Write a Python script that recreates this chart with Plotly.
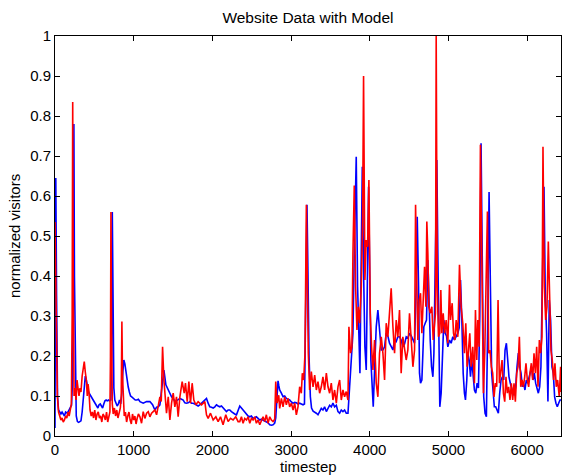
import plotly.graph_objects as go

# ---- data (timestep, normalized visitors) ----
red_t = [0, 15, 30, 45, 60, 75, 90, 105, 120, 135, 150, 165, 180, 195, 208, 218, 225, 232, 242, 255,
         268, 280, 292, 305, 318, 330, 345, 358, 372, 385, 398, 410, 420, 432, 445, 460, 475, 490, 505, 520,
         535, 550, 565, 580, 595, 610, 625, 640, 655, 670, 685, 698, 705, 711, 718, 728, 740, 755, 770, 785,
         800, 815, 830, 842, 850, 858, 868, 880, 895, 910, 925, 940, 955, 970, 985, 1000, 1015, 1030, 1045, 1060,
         1079, 1100, 1121, 1142, 1164, 1185, 1206, 1227, 1248, 1269, 1291, 1312, 1333, 1350, 1367, 1384, 1401, 1417, 1439, 1460,
         1481, 1502, 1523, 1544, 1565, 1587, 1616, 1642, 1658, 1680, 1701, 1722, 1743, 1764, 1790, 1819, 1862, 1904, 1925, 1946,
         1976, 2010, 2044, 2073, 2103, 2136, 2170, 2200, 2230, 2263, 2297, 2327, 2348, 2369, 2390, 2411, 2433, 2454, 2475, 2496,
         2517, 2538, 2559, 2581, 2602, 2623, 2644, 2665, 2686, 2707, 2729, 2750, 2771, 2792, 2805, 2822, 2843, 2855, 2877, 2898,
         2919, 2940, 2961, 2982, 3004, 3025, 3046, 3067, 3088, 3109, 3130, 3143, 3160, 3177, 3194, 3219, 3236, 3257, 3279, 3300,
         3321, 3342, 3363, 3384, 3405, 3426, 3448, 3469, 3490, 3511, 3532, 3553, 3575, 3596, 3617, 3638, 3659, 3680, 3701, 3723,
         3735, 3756, 3773, 3786, 3803, 3820, 3837, 3854, 3871, 3892, 3909, 3921, 3938, 3955, 3972, 3989, 4006, 4023, 4040, 4061,
         4082, 4103, 4124, 4146, 4167, 4188, 4209, 4230, 4251, 4272, 4294, 4315, 4336, 4357, 4378, 4399, 4420, 4442, 4463, 4484,
         4505, 4527, 4548, 4569, 4582, 4599, 4611, 4628, 4645, 4662, 4679, 4696, 4713, 4725, 4738, 4751, 4768, 4789, 4806, 4823,
         4835, 4844, 4857, 4873, 4890, 4903, 4916, 4933, 4950, 4971, 4992, 5013, 5026, 5047, 5064, 5081, 5098, 5119, 5140, 5161,
         5182, 5203, 5220, 5237, 5254, 5271, 5288, 5309, 5330, 5343, 5360, 5373, 5389, 5406, 5423, 5444, 5461, 5478, 5495, 5511,
         5528, 5545, 5562, 5579, 5596, 5613, 5630, 5647, 5664, 5681, 5698, 5715, 5731, 5748, 5765, 5782, 5799, 5816, 5833, 5850,
         5867, 5884, 5901, 5918, 5935, 5952, 5969, 5985, 6002, 6019, 6036, 6053, 6070, 6087, 6104, 6121, 6138, 6155, 6171, 6188,
         6201, 6218, 6235, 6252, 6269, 6286, 6302, 6319, 6336, 6353, 6370, 6387, 6408, 6425, 6430]
red_v = [0.535, 0.30, 0.10, 0.06, 0.05, 0.04, 0.045, 0.035, 0.04, 0.05, 0.045, 0.06, 0.05, 0.065, 0.08, 0.30, 0.835, 0.40, 0.10, 0.12,
         0.09, 0.14, 0.115, 0.10, 0.12, 0.11, 0.15, 0.17, 0.186, 0.16, 0.14, 0.10, 0.13, 0.11, 0.065, 0.05, 0.06, 0.045, 0.065, 0.04,
         0.055, 0.06, 0.045, 0.05, 0.035, 0.055, 0.05, 0.04, 0.06, 0.035, 0.05, 0.06, 0.20, 0.56, 0.30, 0.08, 0.055, 0.07, 0.05, 0.065,
         0.045, 0.06, 0.07, 0.10, 0.286, 0.15, 0.07, 0.05, 0.06, 0.035, 0.05, 0.06, 0.04, 0.03, 0.055, 0.04, 0.05, 0.03, 0.045, 0.055,
         0.048, 0.032, 0.061, 0.044, 0.057, 0.061, 0.048, 0.057, 0.061, 0.065, 0.053, 0.073, 0.098, 0.086, 0.223, 0.14, 0.09, 0.057, 0.098, 0.04,
         0.082, 0.107, 0.073, 0.098, 0.048, 0.098, 0.136, 0.107, 0.132, 0.086, 0.136, 0.082, 0.132, 0.09, 0.078, 0.086, 0.078, 0.086, 0.053, 0.044,
         0.057, 0.04, 0.048, 0.036, 0.048, 0.028, 0.053, 0.036, 0.044, 0.04, 0.048, 0.036, 0.036, 0.048, 0.032, 0.044, 0.04, 0.048, 0.032, 0.044,
         0.04, 0.048, 0.032, 0.04, 0.028, 0.04, 0.048, 0.036, 0.053, 0.032, 0.048, 0.04, 0.036, 0.042, 0.136, 0.082, 0.102, 0.069, 0.094, 0.073,
         0.098, 0.078, 0.094, 0.073, 0.082, 0.065, 0.082, 0.053, 0.073, 0.123, 0.107, 0.157, 0.14, 0.207, 0.578, 0.207, 0.115, 0.161, 0.123, 0.152,
         0.115, 0.136, 0.107, 0.123, 0.148, 0.115, 0.157, 0.123, 0.107, 0.132, 0.09, 0.115, 0.082, 0.123, 0.14, 0.09, 0.115, 0.098, 0.111, 0.09,
         0.273, 0.207, 0.223, 0.457, 0.626, 0.373, 0.265, 0.323, 0.282, 0.373, 0.54, 0.90, 0.39, 0.49, 0.473, 0.64, 0.307, 0.223, 0.165, 0.24,
         0.132, 0.098, 0.207, 0.248, 0.207, 0.14, 0.282, 0.248, 0.307, 0.369, 0.273, 0.207, 0.29, 0.248, 0.315, 0.157, 0.248, 0.223, 0.19, 0.215,
         0.307, 0.24, 0.173, 0.215, 0.578, 0.373, 0.24, 0.34, 0.357, 0.257, 0.323, 0.423, 0.323, 0.536, 0.457, 0.323, 0.307, 0.323, 0.24, 0.273,
         0.307, 1.0, 0.373, 0.248, 0.257, 0.365, 0.257, 0.307, 0.257, 0.29, 0.232, 0.378, 0.29, 0.332, 0.257, 0.24, 0.29, 0.248, 0.428, 0.323,
         0.282, 0.207, 0.282, 0.173, 0.223, 0.257, 0.173, 0.223, 0.132, 0.315, 0.19, 0.29, 0.223, 0.728, 0.457, 0.107, 0.207, 0.365, 0.561, 0.207,
         0.215, 0.173, 0.157, 0.098, 0.132, 0.123, 0.34, 0.132, 0.157, 0.19, 0.107, 0.086, 0.148, 0.107, 0.123, 0.09, 0.132, 0.09, 0.132, 0.086,
         0.157, 0.173, 0.248, 0.123, 0.14, 0.123, 0.148, 0.182, 0.14, 0.123, 0.157, 0.182, 0.14, 0.207, 0.157, 0.223, 0.123, 0.24, 0.207, 0.248,
         0.723, 0.373, 0.29, 0.323, 0.486, 0.29, 0.215, 0.19, 0.14, 0.182, 0.123, 0.14, 0.098, 0.173, 0.11]

blue_t = [0, 10, 20, 32, 45, 60, 75, 90, 105, 120, 135, 150, 165, 180, 195, 210, 225, 233, 240, 247,
          258, 270, 285, 300, 315, 330, 345, 360, 375, 385, 398, 410, 425, 440, 455, 470, 485, 500, 515, 530,
          545, 560, 575, 590, 605, 620, 635, 650, 665, 680, 695, 710, 720, 728, 736, 748, 760, 775, 790, 805,
          820, 835, 850, 862, 875, 888, 900, 915, 930, 945, 960, 975, 990, 1005, 1020, 1040, 1060, 1080, 1121, 1164,
          1206, 1240, 1269, 1291, 1312, 1333, 1354, 1371, 1384, 1409, 1439, 1460, 1481, 1502, 1523, 1544, 1565, 1587, 1608, 1629,
          1650, 1671, 1692, 1714, 1735, 1756, 1777, 1798, 1819, 1840, 1862, 1883, 1904, 1925, 1946, 1967, 1988, 2010, 2031, 2052,
          2073, 2094, 2115, 2136, 2158, 2179, 2200, 2221, 2242, 2263, 2284, 2306, 2335, 2348, 2369, 2390, 2411, 2433, 2454, 2475,
          2496, 2517, 2538, 2559, 2581, 2602, 2623, 2644, 2665, 2686, 2707, 2729, 2750, 2771, 2792, 2805, 2820, 2834, 2845, 2855,
          2877, 2898, 2919, 2940, 2961, 2982, 3004, 3025, 3046, 3067, 3088, 3109, 3130, 3152, 3170, 3185, 3202, 3215, 3228, 3245,
          3260, 3280, 3300, 3321, 3342, 3363, 3384, 3405, 3426, 3448, 3469, 3490, 3511, 3532, 3553, 3575, 3596, 3617, 3638, 3659,
          3680, 3701, 3723, 3744, 3765, 3786, 3803, 3815, 3828, 3845, 3862, 3875, 3892, 3905, 3921, 3938, 3955, 3968, 3985, 4000,
          4014, 4031, 4044, 4061, 4082, 4103, 4124, 4146, 4167, 4188, 4209, 4230, 4251, 4272, 4294, 4315, 4336, 4357, 4378, 4399,
          4420, 4442, 4463, 4484, 4505, 4527, 4548, 4569, 4590, 4603, 4620, 4632, 4645, 4662, 4675, 4687, 4704, 4721, 4738, 4751,
          4768, 4785, 4802, 4815, 4831, 4852, 4865, 4878, 4890, 4907, 4924, 4941, 4958, 4975, 4992, 5013, 5034, 5055, 5076, 5098,
          5119, 5136, 5153, 5170, 5187, 5203, 5216, 5233, 5246, 5263, 5280, 5296, 5313, 5330, 5347, 5364, 5381, 5398, 5414, 5431,
          5448, 5465, 5482, 5499, 5516, 5533, 5549, 5566, 5583, 5600, 5617, 5634, 5651, 5668, 5685, 5702, 5719, 5736, 5753, 5769,
          5786, 5803, 5820, 5837, 5854, 5871, 5888, 5905, 5922, 5939, 5955, 5972, 5989, 6006, 6023, 6040, 6057, 6074, 6091, 6108,
          6125, 6142, 6159, 6175, 6192, 6214, 6230, 6247, 6264, 6281, 6298, 6315, 6332, 6349, 6366, 6383, 6400, 6417, 6430]
blue_v = [0.02, 0.645, 0.35, 0.10, 0.065, 0.06, 0.055, 0.06, 0.055, 0.05, 0.06, 0.058, 0.06, 0.065, 0.07, 0.077, 0.15, 0.50, 0.78, 0.40,
          0.12, 0.05, 0.036, 0.034, 0.036, 0.038, 0.06, 0.10, 0.14, 0.15, 0.14, 0.12, 0.11, 0.105, 0.10, 0.095, 0.09, 0.085, 0.08, 0.072,
          0.07, 0.078, 0.08, 0.075, 0.07, 0.08, 0.088, 0.09, 0.088, 0.09, 0.088, 0.09, 0.20, 0.56, 0.35, 0.12, 0.09, 0.08, 0.075, 0.08,
          0.09, 0.08, 0.11, 0.16, 0.19, 0.18, 0.16, 0.14, 0.123, 0.11, 0.10, 0.098, 0.095, 0.092, 0.09, 0.09, 0.092, 0.086, 0.082, 0.086,
          0.086, 0.078, 0.065, 0.072, 0.073, 0.078, 0.115, 0.148, 0.165, 0.128, 0.115, 0.107, 0.098, 0.094, 0.086, 0.088, 0.09, 0.094, 0.092, 0.09,
          0.083, 0.082, 0.083, 0.086, 0.082, 0.082, 0.08, 0.078, 0.075, 0.078, 0.082, 0.086, 0.09, 0.094, 0.082, 0.073, 0.072, 0.07, 0.073, 0.078,
          0.075, 0.073, 0.075, 0.07, 0.065, 0.061, 0.065, 0.065, 0.061, 0.057, 0.055, 0.053, 0.07, 0.075, 0.07, 0.065, 0.058, 0.053, 0.05, 0.048,
          0.05, 0.044, 0.046, 0.048, 0.044, 0.04, 0.042, 0.04, 0.038, 0.036, 0.033, 0.028, 0.027, 0.028, 0.032, 0.045, 0.11, 0.138, 0.125, 0.115,
          0.107, 0.098, 0.10, 0.094, 0.092, 0.09, 0.085, 0.082, 0.084, 0.083, 0.08, 0.082, 0.08, 0.078, 0.08, 0.365, 0.578, 0.40, 0.20, 0.098,
          0.07, 0.062, 0.06, 0.057, 0.053, 0.062, 0.069, 0.065, 0.073, 0.061, 0.069, 0.077, 0.073, 0.082, 0.073, 0.077, 0.061, 0.057, 0.065, 0.061,
          0.065, 0.057, 0.057, 0.123, 0.173, 0.257, 0.457, 0.60, 0.698, 0.373, 0.207, 0.157, 0.457, 0.673, 0.415, 0.223, 0.165, 0.35, 0.623, 0.40,
          0.19, 0.123, 0.073, 0.165, 0.273, 0.315, 0.273, 0.215, 0.215, 0.223, 0.257, 0.25, 0.232, 0.223, 0.215, 0.24, 0.236, 0.248, 0.248, 0.24,
          0.223, 0.23, 0.248, 0.245, 0.257, 0.25, 0.24, 0.232, 0.373, 0.548, 0.373, 0.157, 0.132, 0.14, 0.207, 0.273, 0.282, 0.29, 0.44, 0.323,
          0.24, 0.173, 0.148, 0.207, 0.415, 0.69, 0.457, 0.207, 0.073, 0.107, 0.207, 0.29, 0.257, 0.25, 0.223, 0.24, 0.232, 0.248, 0.24, 0.25,
          0.257, 0.27, 0.39, 0.29, 0.157, 0.107, 0.09, 0.14, 0.207, 0.19, 0.148, 0.19, 0.14, 0.115, 0.107, 0.132, 0.12, 0.30, 0.732, 0.457,
          0.098, 0.057, 0.048, 0.29, 0.61, 0.373, 0.157, 0.115, 0.073, 0.073, 0.065, 0.057, 0.107, 0.14, 0.148, 0.14, 0.215, 0.232, 0.19, 0.148,
          0.132, 0.115, 0.107, 0.102, 0.123, 0.173, 0.207, 0.173, 0.157, 0.123, 0.132, 0.115, 0.14, 0.132, 0.148, 0.157, 0.173, 0.14, 0.157, 0.132,
          0.115, 0.107, 0.123, 0.173, 0.373, 0.623, 0.357, 0.257, 0.086, 0.34, 0.29, 0.173, 0.157, 0.098, 0.082, 0.073, 0.082, 0.09, 0.09]

x_ticks = [0, 1000, 2000, 3000, 4000, 5000, 6000]
y_ticks = [0, 0.1, 0.2, 0.3, 0.4, 0.5, 0.6, 0.7, 0.8, 0.9, 1]
y_tick_labels = ["0", "0.1", "0.2", "0.3", "0.4", "0.5", "0.6", "0.7", "0.8", "0.9", "1"]

FONT = "Liberation Sans, Arial, Helvetica, sans-serif"

fig = go.Figure()
fig.add_trace(go.Scatter(x=blue_t, y=blue_v, mode="lines",
                         line=dict(color="#0000FF", width=1.6), name="model"))
fig.add_trace(go.Scatter(x=red_t, y=red_v, mode="lines",
                         line=dict(color="#FF0000", width=1.6), name="data"))

axis_common = dict(showgrid=False, zeroline=False, showline=True, linecolor="black",
                   linewidth=1, ticks="inside", ticklen=5, tickwidth=1, tickcolor="black",
                   mirror="ticks", tickfont=dict(family=FONT, size=15, color="black"))

fig.update_layout(
    width=562, height=475,
    margin=dict(l=55, r=1, t=36, b=39),
    paper_bgcolor="white", plot_bgcolor="white",
    showlegend=False,
    font=dict(family=FONT, color="black"),
    xaxis=dict(range=[0, 6430], tickvals=x_ticks, **axis_common),
    yaxis=dict(range=[0, 1], tickvals=y_ticks, ticktext=y_tick_labels, **axis_common),
    title=dict(text="Website Data with Model", x=0.548, xanchor="center",
               y=1 - 18 / 475, yanchor="middle", yref="container",
               font=dict(family=FONT, size=15.5, color="black")),
    annotations=[
        dict(text="timestep", xref="paper", yref="paper", x=0.5, y=-31 / 400,
             xanchor="center", yanchor="middle", showarrow=False,
             font=dict(family=FONT, size=15, color="black")),
        dict(text="normalized visitors", xref="paper", yref="paper", x=-41 / 506, y=0.5,
             xanchor="center", yanchor="middle", textangle=-90, showarrow=False,
             font=dict(family=FONT, size=15, color="black")),
    ],
)

fig.write_html("out.html")
